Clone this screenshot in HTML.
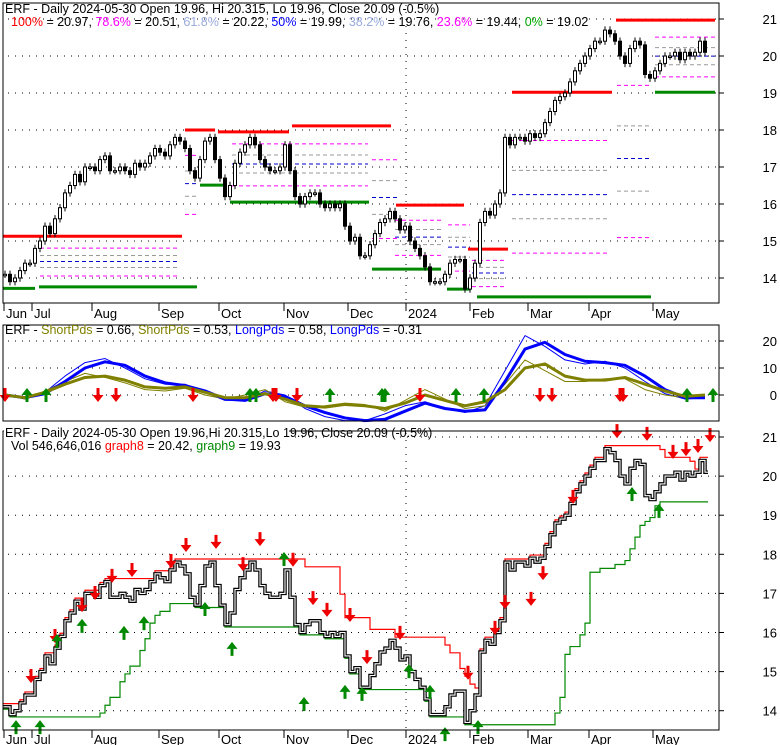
<!DOCTYPE html>
<html><head><meta charset="utf-8">
<style>
html,body{margin:0;padding:0;background:#fff;}
svg{display:block;font-family:"Liberation Sans",Arial,sans-serif;}
</style></head>
<body>
<svg id="c" width="780" height="745" viewBox="0 0 780 745" xmlns="http://www.w3.org/2000/svg">
<rect x="0" y="0" width="780" height="745" fill="#fff"/>
<g id="p1"></g>
<g id="p2"></g>
<g id="p3"></g>
</svg>
<script>
const closes=[14.1,13.9,14.0,14.2,14.4,14.4,14.8,15.0,15.4,15.2,15.6,15.9,16.3,16.5,16.8,16.6,17.0,17.0,16.9,17.2,
17.3,16.9,16.9,17.0,16.9,16.8,17.1,17.0,17.1,17.3,17.5,17.4,17.3,17.6,17.8,17.7,17.5,16.9,16.7,17.2,
17.7,17.8,17.2,16.7,16.2,16.5,17.1,17.4,17.6,17.8,17.6,17.2,17.0,16.9,16.9,17.0,17.6,16.9,16.2,16.0,
16.2,16.3,16.3,16.0,15.9,16.0,15.9,16.0,15.4,15.0,15.1,14.6,14.6,14.9,15.2,15.5,15.6,15.8,15.6,15.3,
15.4,15.0,14.8,14.6,14.3,13.9,13.9,13.9,14.1,14.4,14.5,14.5,13.7,14.0,14.4,15.5,15.8,15.7,16.0,16.3,
17.8,17.6,17.8,17.8,17.7,17.9,17.8,17.9,18.2,18.5,18.8,18.9,19.0,19.3,19.6,19.8,20.0,20.2,20.4,20.4,
20.7,20.6,20.4,20.0,19.8,20.2,20.4,20.3,19.5,19.4,19.6,19.8,20.0,20.0,20.1,19.9,20.1,20.0,20.1,20.4,20.1];
const redLines=[[-0.4,35.4,15.13],[36,42,18.0],[42.6,56.8,17.95],[57.4,77.2,18.11],[78.2,91.8,15.97],[92.6,100.6,14.78],[101.4,121.4,19.02],[122.2,142,20.97]];
const greenLines=[[-0.4,6,13.72],[6.8,38.4,13.76],[39,44,16.51],[45,72.8,16.05],[73.4,87.2,14.24],[88.4,93,13.70],[94.4,129.2,13.49],[130,142,19.02]];
const fibSets=[[7,35,15.13,13.76],[36,38.2,18.0,15.1],[45.4,72.6,18.11,16.05],[73.4,79,18.11,14.24],[78,87.4,15.97,14.24],[88.6,93,15.97,13.70],[93.4,100,14.78,13.49],[101.4,121,19.02,13.49],[122.4,129,20.97,13.49],[130,142,20.97,19.02]];
const fibLevels=[0.236,0.382,0.5,0.618,0.786];
const fibColors=["#ff00ff","#999999","#0000cc","#999999","#ff00ff"];
const priceTicks=[14,15,16,17,18,19,20,21];
const monthLabels=["Jun","Jul","Aug","Sep","Oct","Nov","Dec","2024","Feb","Mar","Apr","May"];
const monthIdx=[-0.2,5.4,17.4,30.8,42.8,55.8,68.6,80.2,93,104.6,116.8,129.6];
const blueThick=[0,-1,0.5,5,10,12.3,11,7,4.5,3.5,1.5,-1.5,-2,0.5,-0.5,-4,-6.5,-8.5,-9.5,-9,-6,-3,-5,-6,-5.5,5,17,19.5,15,12.5,12,11,7,2,-1,-1];
const blueThin=[0,-1.5,1,7,12,13.5,10,6,4,4,1,-2,-2,1.5,0,-5,-8,-9.5,-9.5,-7,-4,-2.5,-5,-6.5,-4,9,22,18,13,11.5,12.5,10,5,0.5,-1.5,-1];
const oliveThick=[0,-1,1,4,6.5,7,5.5,3,2.5,3,1,-1,-1,0.5,-1.5,-4,-4.5,-3.5,-4,-5,-3,0,-2,-4,-2.5,2,10,11.5,7,5.5,5.5,6.5,4,1.5,-0.5,0];
const oliveThin=[0,-1.5,1.5,5,8,6.5,4.5,2,1.5,2.5,0,-1.5,0,2,-2.5,-4.5,-4,-3,-3.5,-6,-2,2,-1.5,-5,-4,4,13,9,5,5,6,6,2,0,-1,0];
const oscTicks=[0,10,20];
const oscRedArrows=[0,18.6,22.2,37.6,53.6,54.2,58.4,83,107,109.4,123,123.6];
const oscGreenArrows=[4.4,8.2,49,50.2,65,75.4,76,90.2,95.8,136.4,141.6];
const sellIdx=[5.2,10,15.4,18,21.4,25.4,33.2,36.2,42.2,47.6,51,57.6,61.6,64.4,69,72.4,79,92.6,98,100,105.2,107.6,113.6,122.4,128.4,133.6,136.2,138.6,141];
const sellPx=[14.71,15.73,16.52,16.83,17.27,17.42,17.65,18.06,18.14,17.57,18.21,17.68,16.70,16.40,16.27,15.19,15.81,14.79,15.94,16.60,16.68,17.34,19.29,20.97,20.90,20.44,20.51,20.59,20.87];
const buyIdx=[2.2,7,10.4,15.4,23.8,27.8,40,45.4,55.8,59.8,68,71.4,80.8,85,88,94.6,125.4,130.8];
const buyPx=[13.76,13.76,15.96,16.35,16.17,16.42,16.78,15.76,18.06,14.35,14.66,14.61,15.19,14.66,13.58,13.76,19.72,19.29];

const NS="http://www.w3.org/2000/svg";
function mk(parent,tag,attrs){const e=document.createElementNS(NS,tag);for(const k in attrs)e.setAttribute(k,attrs[k]);parent.appendChild(e);return e;}
const xOf=i=>5+i*5;
const L=3,R=719;
const y1=p=>19+(21-p)*37;
const y2=v=>395-v*2.7;
const y3=p=>437+(21-p)*39.1;

function frame(g,top,bot,name){
  const r=mk(g,'rect',{x:L,y:top,width:R-L,height:bot-top,fill:'none',stroke:'#000','stroke-width':1});
  
  
}
function grid(g,ys,name){
  ys.forEach(y=>{const l=mk(g,'line',{x1:L+5,x2:R,y1:y,y2:y,stroke:'#000','stroke-width':1,'stroke-dasharray':'1,6'});
  
  });
}
function yLabels(g,vals,f,name){
  vals.forEach(v=>{
    const t=mk(g,'text',{x:777,y:f(v)+5,'text-anchor':'end','font-size':13,fill:'#000'});t.textContent=v;
    
    
    mk(g,'line',{x1:R,x2:R+5,y1:f(v),y2:f(v),stroke:'#000'});
  });
}
function months(g,bot,ty){
  monthLabels.forEach((m,k)=>{
    const x=xOf(monthIdx[k]);
    mk(g,'line',{x1:x,x2:x,y1:bot,y2:bot+8,stroke:'#000'});
    const t=mk(g,'text',{x:x+2,y:ty,'font-size':13,fill:'#000'});t.textContent=m;
    
    
  });
}
function arrow(g,x,y,dir,color){
  const d=dir>0?`M${x-1.5},${y-14}h3v7h4l-5.5,7l-5.5,-7h4z`:`M${x-1.5},${y+14}h3v-7h4l-5.5,-7l-5.5,7h4z`;
  const p=mk(g,'path',{d:d,fill:color});
  
  
}

// ===== Panel 1 =====
const p1=document.getElementById('p1');
grid(p1,priceTicks.map(y1),'price-gridline');
mk(p1,'line',{x1:xOf(80.2),x2:xOf(80.2),y1:5,y2:303,stroke:'#000','stroke-dasharray':'1,6'});
fibSets.forEach(s=>{
  fibLevels.forEach((f,k)=>{
    const p=s[2]-(s[2]-s[3])*f;
    const l=mk(p1,'line',{x1:xOf(s[0]),x2:xOf(s[1]),y1:y1(p),y2:y1(p),stroke:fibColors[k],'stroke-width':1,'stroke-dasharray':'4,3'});
    
    
  });
});
redLines.forEach(s=>{const l=mk(p1,'line',{x1:xOf(s[0]),x2:xOf(s[1]),y1:y1(s[2]),y2:y1(s[2]),stroke:'#ff0000','stroke-width':3});
  
  });
greenLines.forEach(s=>{const l=mk(p1,'line',{x1:xOf(s[0]),x2:xOf(s[1]),y1:y1(s[2]),y2:y1(s[2]),stroke:'#008800','stroke-width':3});
  
  });
closes.forEach((c,i)=>{
  const o=i>0?closes[i-1]:c;
  const hi=Math.max(o,c)+0.1,lo=Math.min(o,c)-0.1;
  const x=xOf(i);
  mk(p1,'line',{x1:x,x2:x,y1:y1(hi),y2:y1(lo),stroke:'#000'});
  const top=y1(Math.max(o,c)),h=Math.max(1.5,Math.abs(y1(o)-y1(c)));
  const b=mk(p1,'rect',{x:x-1.5,y:top,width:3,height:h,fill:c<o?'#000':'#fff',stroke:'#000','stroke-width':1});
  
  
});
frame(p1,3,303,'price-frame');
yLabels(p1,priceTicks,y1,'price-axis-label');
months(p1,303,318);
{
 const t=mk(p1,'text',{x:5,y:13,'font-size':12.5,fill:'#000'});
 
 
 t.textContent='ERF - Daily 2024-05-30 Open 19.96, Hi 20.315, Lo 19.96, Close 20.09 (-0.5%)';
 const t2=mk(p1,'text',{x:11,y:26,'font-size':12.5,fill:'#000'});
 
 
 t2.innerHTML='<tspan fill="#ff0000">100%</tspan> = 20.97, <tspan fill="#ff00ff">78.6%</tspan> = 20.51, <tspan fill="#99aadd">61.8%</tspan> = 20.22, <tspan fill="#0000ff">50%</tspan> = 19.99, <tspan fill="#99aadd">38.2%</tspan> = 19.76, <tspan fill="#ff00ff">23.6%</tspan> = 19.44, <tspan fill="#00aa00">0%</tspan> = 19.02';
}

// ===== Panel 2 =====
const p2=document.getElementById('p2');
grid(p2,oscTicks.map(y2),'osc-gridline');
function oscLine(arr,color,w,name){
  const pts=arr.map((v,k)=>xOf(k*4)+','+y2(v)).join(' ');
  const l=mk(p2,'polyline',{points:pts,fill:'none',stroke:color,'stroke-width':w,'stroke-linejoin':'round'});
  
  
}
oscLine(blueThin,'#0000ff',1,'long-pds-thin');
oscLine(oliveThin,'#808000',1,'short-pds-thin');
oscLine(blueThick,'#0000ff',3,'long-pds-thick');
oscLine(oliveThick,'#808000',3,'short-pds-thick');
oscRedArrows.forEach(i=>arrow(p2,xOf(i),y2(0)+7,1,'#ee0000'));
oscGreenArrows.forEach(i=>arrow(p2,xOf(i),y2(0)-7,-1,'#008800'));
frame(p2,325,421,'osc-frame');
yLabels(p2,oscTicks,y2,'osc-axis-label');
{
 const t=mk(p2,'text',{x:5,y:334,'font-size':12.5,fill:'#000'});
 
 
 t.innerHTML='ERF - <tspan fill="#808000">ShortPds</tspan> = 0.66, <tspan fill="#808000">ShortPds</tspan> = 0.53, <tspan fill="#0000ff">LongPds</tspan> = 0.58, <tspan fill="#0000ff">LongPds</tspan> = -0.31';
}

// ===== Panel 3 =====
const p3=document.getElementById('p3');
grid(p3,priceTicks.map(y3),'trend-gridline');
mk(p3,'line',{x1:xOf(80.2),x2:xOf(80.2),y1:433,y2:730,stroke:'#000','stroke-dasharray':'1,6'});
function rolling(fn,n){return closes.map((c,i)=>fn(...closes.slice(Math.max(0,i-n+1),i+1)));}
const trailHi=rolling(Math.max,11).map(v=>v+0.08);
const trailLo=rolling(Math.min,18).map(v=>v-0.06);
function stepPath(arr,f){let d='';arr.forEach((v,i)=>{const x=xOf(i);d+=(i?`H${x}V${f(v)}`:`M${x-2},${f(v)}`);});return d+'H'+(xOf(arr.length-1)+3);}
{
 const r=mk(p3,'path',{d:stepPath(trailHi,y3),fill:'none',stroke:'#ff0000','stroke-width':1.2});
 
 
 const g=mk(p3,'path',{d:stepPath(trailLo,y3),fill:'none',stroke:'#008800','stroke-width':1.2});
 
 
 const b=mk(p3,'path',{d:stepPath(closes,y3),fill:'none',stroke:'#000','stroke-width':3.5});
 
 
 const w=mk(p3,'path',{d:stepPath(closes,y3),fill:'none',stroke:'#fff','stroke-width':1.1});
 
 
}
sellIdx.forEach((i,k)=>arrow(p3,xOf(i),y3(sellPx[k]),1,'#ee0000'));
buyIdx.forEach((i,k)=>arrow(p3,xOf(i),y3(buyPx[k]),-1,'#008800'));
frame(p3,431,730,'trend-frame');
mk(p3,'rect',{x:4,y:425,width:285,height:30,fill:'#fff'});
yLabels(p3,priceTicks,y3,'trend-axis-label');
months(p3,730,744);
{
 const t=mk(p3,'text',{x:5,y:437,'font-size':12.5,fill:'#000'});
 
 
 t.textContent='ERF - Daily 2024-05-30 Open 19.96,Hi 20.315,Lo 19.96, Close 20.09 (-0.5%)';
 const t2=mk(p3,'text',{x:11,y:450,'font-size':12.5,fill:'#000'});
 
 
 t2.innerHTML='Vol 546,646,016 <tspan fill="#ff0000">graph8</tspan> = 20.42, <tspan fill="#008800">graph9</tspan> = 19.93';
}
</script>
</body></html>
